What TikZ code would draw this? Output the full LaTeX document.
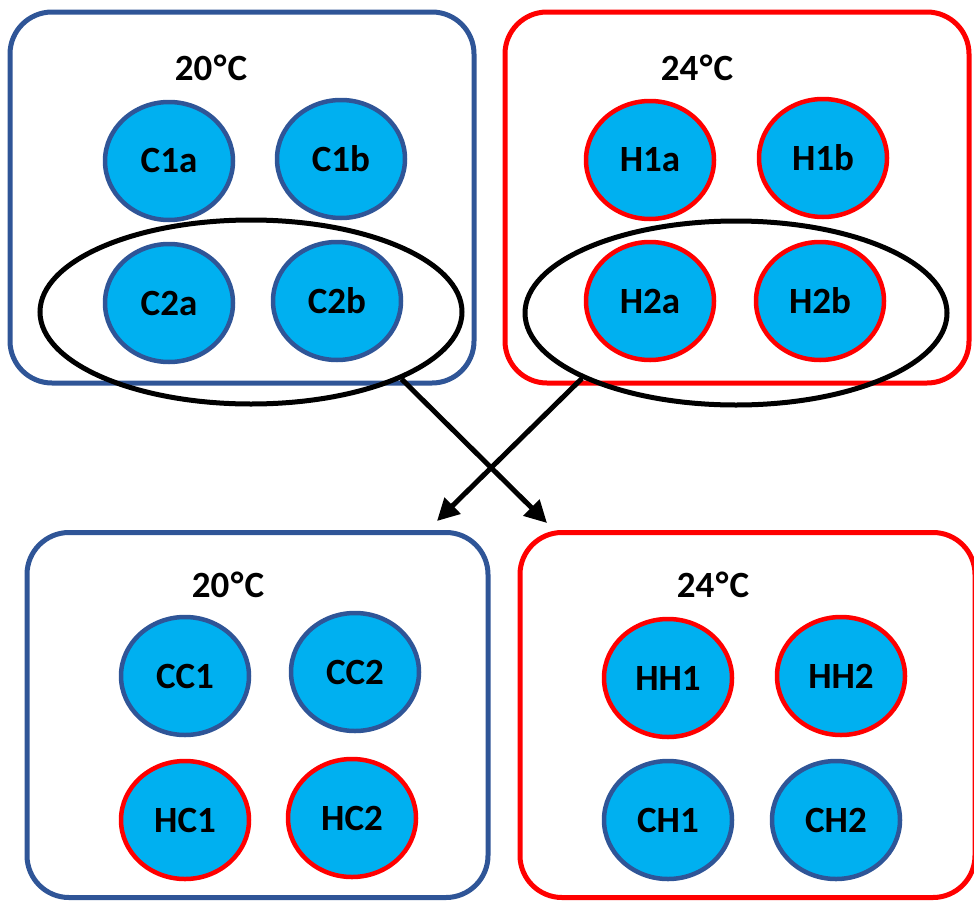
\documentclass[tikz,border=0pt]{standalone}
\usepackage{fontspec}
\setmainfont{Carlito}
\usetikzlibrary{shapes.geometric,arrows.meta}
\definecolor{cooledge}{HTML}{2F5597}
\definecolor{hotedge}{HTML}{FF0000}
\definecolor{dishfill}{HTML}{00B0F0}
\newcommand{\degC}{\kern1.5pt°\kern1pt C}
\begin{document}
\begin{tikzpicture}[x=1pt,y=-1pt,
  lbl/.style={font=\bfseries\fontsize{37}{42}\selectfont},
  tank/.style={draw, line width=5pt, rounded corners=42pt, inner sep=0pt},
  coldtank/.style={tank, draw=cooledge},
  hottank/.style={tank, draw=hotedge},
  dish/.style={ellipse, line width=4.5pt, fill=dishfill, minimum width=128pt,
    minimum height=118pt, inner sep=0pt, lbl},
  colddish/.style={dish, draw=cooledge},
  hotdish/.style={dish, draw=hotedge},
  group/.style={ellipse, draw=black, line width=5pt, inner sep=0pt,
    minimum width=422pt, minimum height=184pt},
  move/.style={line width=5pt, -{Triangle[length=22pt,width=22pt]}}]
\useasboundingbox (0,0) rectangle (974,902);

% tanks
\node[coldtank, minimum width=464pt, minimum height=371pt] (tankA) at (242,197.5) {};
\node[hottank,  minimum width=464pt, minimum height=371pt] (tankB) at (737,197.5) {};
\node[coldtank, minimum width=461pt, minimum height=365pt] (tankC) at (257.5,715) {};
\node[hottank,  minimum width=455pt, minimum height=365pt] (tankD) at (747.5,715) {};

% temperatures
\node[lbl] (tA) at (211,68) {20\degC};
\node[lbl] (tB) at (697,68) {24\degC};
\node[lbl] (tC) at (228,585) {20\degC};
\node[lbl] (tD) at (713,585) {24\degC};

% starting populations
\node[colddish] (C1a) at (169,161) {C1a};
\node[colddish] (C1b) at (341,159) {C1b};
\node[colddish] (C2a) at (169,303) {C2a};
\node[colddish] (C2b) at (337,301) {C2b};
\node[hotdish] (H1a) at (650,160) {H1a};
\node[hotdish] (H1b) at (823,158) {H1b};
\node[hotdish] (H2a) at (650,301) {H2a};
\node[hotdish] (H2b) at (820,301) {H2b};

% transferred groups
\node[group] (gC) at (251,312) {};
\node[group] (gH) at (736,313) {};

% resulting populations
\node[colddish] (CC1) at (185,676) {CC1};
\node[colddish] (CC2) at (355,672) {CC2};
\node[hotdish]  (HC1) at (185,820) {HC1};
\node[hotdish]  (HC2) at (352,818) {HC2};
\node[hotdish]  (HH1) at (668,678) {HH1};
\node[hotdish]  (HH2) at (841,676) {HH2};
\node[colddish] (CH1) at (668,820) {CH1};
\node[colddish] (CH2) at (836,820) {CH2};

% transfers
\coordinate (toD) at (547,523);
\coordinate (toC) at (437,521);
\draw[move] (gC.-24) -- (toD);
\draw[move] (gH.-157) -- (toC);
\end{tikzpicture}
\end{document}
